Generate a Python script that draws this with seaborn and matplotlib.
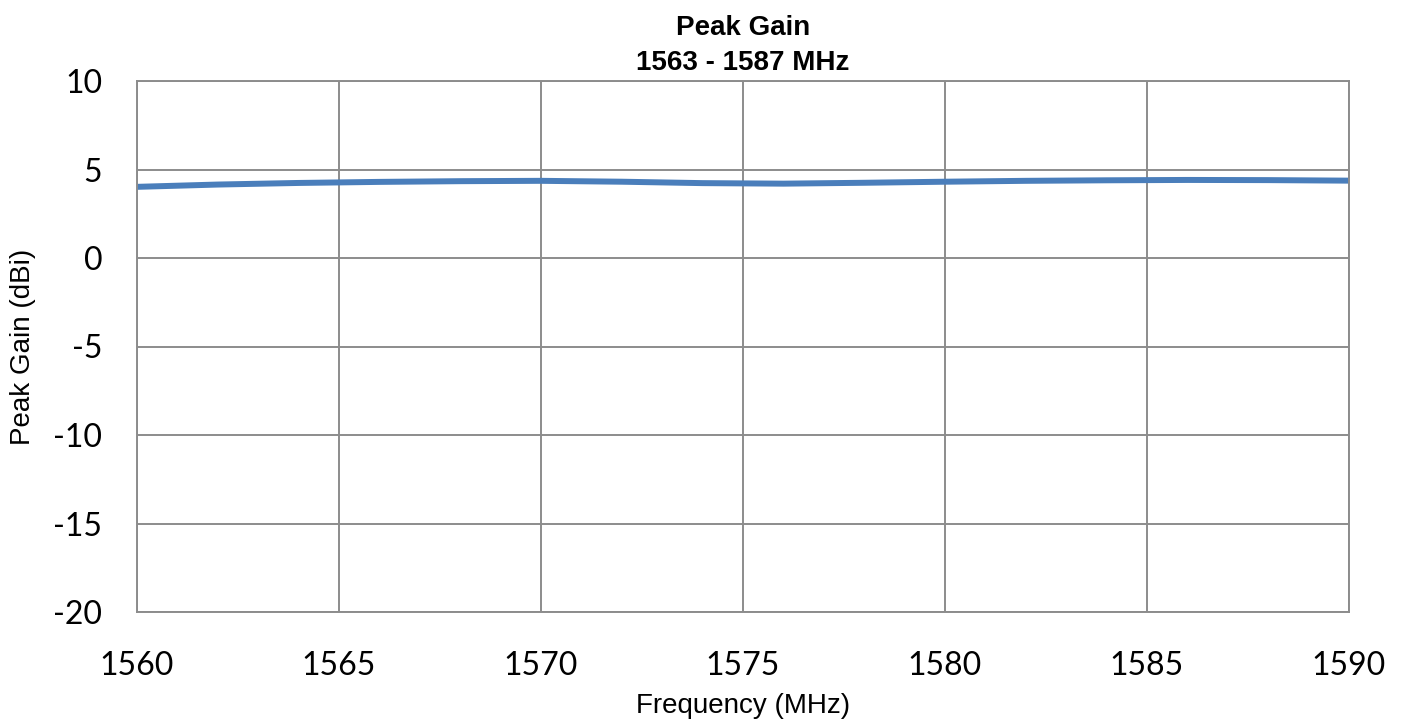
import numpy as np
import pandas as pd
import matplotlib
matplotlib.use("Agg")
import matplotlib.pyplot as plt
import seaborn as sns

# Values
freq = [1560, 1562, 1564, 1566, 1568, 1570, 1572, 1574, 1576, 1578, 1580, 1582, 1584, 1586, 1588, 1590]
gain = [4.02, 4.15, 4.24, 4.30, 4.34, 4.36, 4.31, 4.23, 4.20, 4.25, 4.31, 4.36, 4.39, 4.41, 4.40, 4.37]
x_ticks = [1560, 1565, 1570, 1575, 1580, 1585, 1590]
y_ticks = [-20, -15, -10, -5, 0, 5, 10]

df = pd.DataFrame({"Frequency": freq, "Gain": gain})

sns.set_theme(style="white")
plt.rcParams['font.family'] = ['Liberation Sans', 'DejaVu Sans']
plt.rcParams['text.color'] = 'black'
plt.rcParams['axes.labelcolor'] = 'black'

fig = plt.figure(figsize=(14.03, 7.25), dpi=100)
ax = fig.add_axes([137 / 1403, 1 - 612 / 725, (1349 - 137) / 1403, (612 - 81) / 725])

sns.lineplot(data=df, x="Frequency", y="Gain", ax=ax, color="#4A7EBB", linewidth=4.3)

ax.set_xlim(1560, 1590)
ax.set_ylim(-20, 10)
ax.set_xticks(x_ticks)
ax.set_yticks(y_ticks)
ax.set_xticklabels([str(t) for t in x_ticks], fontfamily="Lato", fontsize=23, color="black")
ax.set_yticklabels([str(t) for t in y_ticks], fontfamily="Lato", fontsize=23, color="black")
ax.tick_params(axis="x", length=0, pad=28)
ax.tick_params(axis="y", length=0, pad=25)

ax.grid(True, color="#8c8c8c", linewidth=1.4)
ax.set_axisbelow(True)
for s in ax.spines.values():
    s.set_color("#8c8c8c")
    s.set_linewidth(1.4)

ax.set_xlabel("Frequency (MHz)", fontsize=20, va="center")
ax.set_ylabel("Peak Gain (dBi)", fontsize=20, va="center")
ax.xaxis.set_label_coords(0.5, (612 - 706) / 531)
ax.yaxis.set_label_coords((23 - 137) / 1212, 0.5)
ax.set_title("Peak Gain\n1563 - 1587 MHz", fontsize=20, fontweight="bold", pad=8, linespacing=1.42)

fig.savefig("out.png", dpi=100)
